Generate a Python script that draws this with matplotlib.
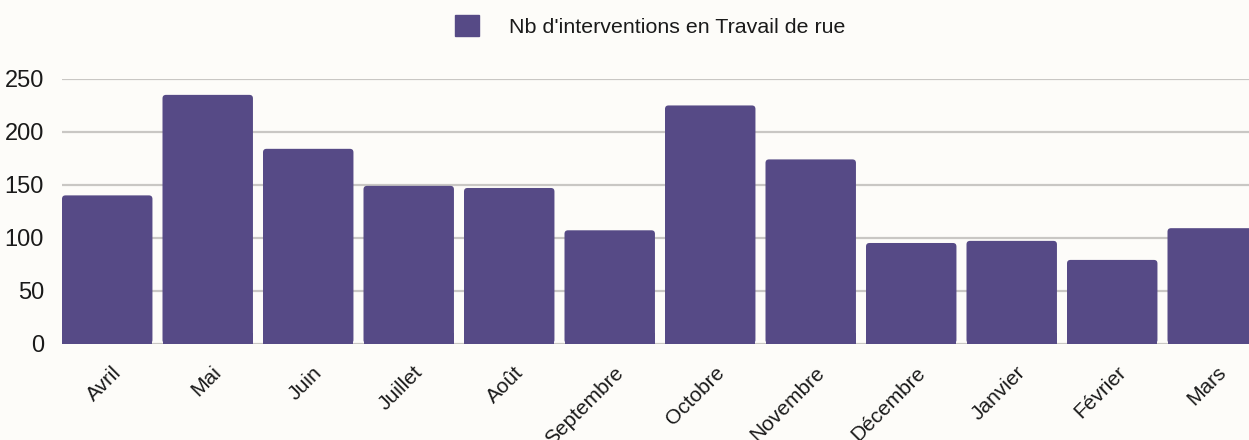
import numpy as np
import matplotlib.pyplot as plt
import matplotlib.transforms as mtransforms
from matplotlib.patches import FancyBboxPatch

plt.rcParams['font.family'] = ['Liberation Sans', 'DejaVu Sans']

# Donnees
mois = ['Avril', 'Mai', 'Juin', 'Juillet', 'Août', 'Septembre', 'Octobre',
        'Novembre', 'Décembre', 'Janvier', 'Février', 'Mars']
interventions = [140, 235, 184, 149, 147, 107, 225, 174, 95, 97, 79, 109]
serie = "Nb d'interventions en Travail de rue"
yticks = [0, 50, 100, 150, 200, 250]

violet = '#564A86'
fond = '#FDFCF9'

W, H = 1249, 440
fig = plt.figure(figsize=(W / 100, H / 100), dpi=100, facecolor=fond)

# axe : gauche a 62px, 0 a 343.5px, 250 a 79px (depuis le haut)
x0, y0, y1 = 62, 343.5, 79
largeur_cat = 100.5
ax = fig.add_axes([x0 / W, (H - y0) / H, largeur_cat * 12 / W, (y0 - y1) / H])
ax.set_facecolor(fond)

x = np.arange(len(mois))
barres = ax.bar(x, interventions, width=0.9, color=violet, zorder=3)

# coins arrondis
for b in barres:
    b.set_visible(False)
    p = FancyBboxPatch((b.get_x(), 0), b.get_width(), b.get_height(),
                       boxstyle='round,pad=0,rounding_size=0.035',
                       mutation_aspect=95, facecolor=violet, edgecolor='none',
                       zorder=3)
    ax.add_patch(p)
    # coins du bas carres
    ax.bar(b.get_x() + b.get_width() / 2, min(10, b.get_height()),
           width=b.get_width(), color=violet, zorder=3)

ax.set_xlim(-0.45, 11.55)
ax.set_ylim(0, 250)
ax.set_yticks(yticks)
ax.yaxis.grid(True, color='#c9c7c4', lw=1.6, zorder=0)
ax.tick_params(axis='y', length=0, labelsize=17, pad=13, labelcolor='#1a1a1a')
ax.tick_params(axis='x', length=0, labelsize=15, pad=14, labelcolor='#1a1a1a')
for s in ax.spines.values():
    s.set_visible(False)

ax.set_xticks(x)
ax.set_xticklabels(mois, rotation=45, ha='right', rotation_mode='anchor')
decal = mtransforms.ScaledTranslation(3 / 72, 0, fig.dpi_scale_trans)
for lab in ax.get_xticklabels():
    lab.set_transform(lab.get_transform() + decal)

# legende
leg = ax.legend([plt.Rectangle((0, 0), 1, 1, color=violet)], [serie],
                loc='center', bbox_to_anchor=(650 / W, 1 - 26 / H),
                bbox_transform=fig.transFigure, frameon=False, fontsize=15.4,
                handlelength=1.1, handleheight=1.1, handletextpad=1.4)
for t in leg.get_texts():
    t.set_color('#1a1a1a')

fig.savefig('out.png', dpi=100, facecolor=fond)
